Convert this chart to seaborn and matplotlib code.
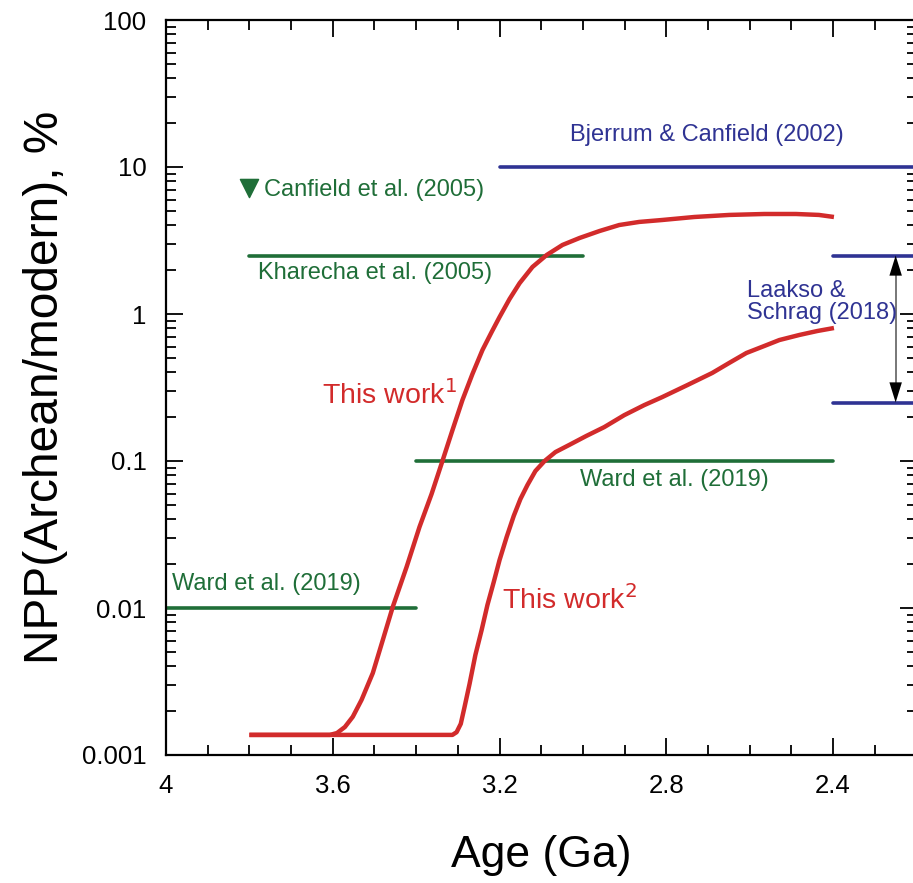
import numpy as np
import pandas as pd
import matplotlib
matplotlib.use("Agg")
import matplotlib.pyplot as plt
from matplotlib.ticker import FixedLocator, NullFormatter, LogLocator
import seaborn as sns

# ---------------- data ----------------
# "This work 1" model curve (Age in Ga, NPP %)
w1_age = [3.800, 3.607, 3.590, 3.571, 3.552, 3.531, 3.504, 3.480, 3.456, 3.423,
          3.392, 3.363, 3.337, 3.313, 3.289, 3.265, 3.241, 3.219, 3.200, 3.176,
          3.152, 3.121, 3.087, 3.049, 3.008, 2.960, 2.913, 2.865, 2.810, 2.733,
          2.649, 2.565, 2.489, 2.434, 2.398]
w1_npp = [0.00137, 0.00137, 0.00141, 0.00155, 0.00182, 0.00237, 0.00361, 0.00606, 0.0102, 0.0190,
          0.0356, 0.0597, 0.100, 0.162, 0.260, 0.391, 0.569, 0.754, 0.954, 1.265,
          1.62, 2.09, 2.52, 2.95, 3.29, 3.67, 4.03, 4.23, 4.36, 4.57,
          4.72, 4.79, 4.79, 4.72, 4.57]

# "This work 2" model curve
w2_age = [3.800, 3.313, 3.303, 3.293, 3.284, 3.272, 3.258, 3.243, 3.229, 3.214,
          3.200, 3.183, 3.166, 3.150, 3.133, 3.114, 3.092, 3.066, 3.032, 2.992,
          2.949, 2.901, 2.853, 2.810, 2.750, 2.690, 2.649, 2.608, 2.565, 2.529,
          2.481, 2.438, 2.398]
w2_npp = [0.00137, 0.00137, 0.00143, 0.00163, 0.00212, 0.00304, 0.00479, 0.00708, 0.0105, 0.0150,
          0.0212, 0.0304, 0.0423, 0.0551, 0.0687, 0.0855, 0.100, 0.115, 0.129, 0.148,
          0.170, 0.205, 0.240, 0.272, 0.328, 0.397, 0.465, 0.543, 0.606, 0.665,
          0.720, 0.766, 0.803]

# literature estimates (horizontal bars)
ref_names = ["Bjerrum & Canfield (2002)", "Kharecha et al. (2005)", "Ward et al. (2019)",
             "Ward et al. (2019)", "Laakso & Schrag (2018) upper", "Laakso & Schrag (2018) lower"]
ref_start = [3.2, 3.8, 3.4, 4.0, 2.4, 2.4]
ref_end = [2.2, 3.0, 2.4, 3.4, 2.2, 2.2]
ref_value = [10, 2.5, 0.1, 0.01, 2.5, 0.25]
ref_group = ["blue", "green", "green", "green", "blue", "blue"]

# Canfield et al. (2005) point estimate
canfield_age = [3.80]
canfield_npp = [7.2]

x_ticks = [4.0, 3.6, 3.2, 2.8, 2.4]
x_ticklabels = ["4", "3.6", "3.2", "2.8", "2.4"]
y_ticks = [0.001, 0.01, 0.1, 1, 10, 100]
y_ticklabels = ["0.001", "0.01", "0.1", "1", "10", "100"]

RED = "#d22b2b"
GREEN = "#1f6e38"
BLUE = "#2f3393"
colors = {"blue": BLUE, "green": GREEN}

# ---------------- style ----------------
sns.set_style("ticks")
plt.rcParams["font.family"] = ["Liberation Sans", "DejaVu Sans"]
plt.rcParams["axes.linewidth"] = 1.5
plt.rcParams["axes.labelcolor"] = "black"
plt.rcParams["text.color"] = "black"

fig = plt.figure(figsize=(9.13, 8.83), dpi=100)
ax = fig.add_axes([166 / 913, 128 / 883, (916.5 - 166) / 913, 735 / 883])

# curves
df1 = pd.DataFrame({"age": w1_age, "npp": w1_npp})
df2 = pd.DataFrame({"age": w2_age, "npp": w2_npp})
for df in (df2, df1):
    sns.lineplot(data=df, x="age", y="npp", ax=ax, color=RED, lw=3.2, sort=False,
                 estimator=None, zorder=3)
for line in ax.get_lines():
    line.set_solid_joinstyle("round")
    line.set_solid_capstyle("butt")

# reference bars
for s, e, v, g in zip(ref_start, ref_end, ref_value, ref_group):
    seg = pd.DataFrame({"age": [s, e], "npp": [v, v]})
    sns.lineplot(data=seg, x="age", y="npp", ax=ax, color=colors[g], lw=2.6,
                 estimator=None, sort=False, zorder=2)

# Canfield marker
sns.scatterplot(x=canfield_age, y=canfield_npp, ax=ax, marker="v", s=170,
                color=GREEN, edgecolor=GREEN, zorder=4)

# Laakso & Schrag arrow
arr_x = 2.25
ax.plot([arr_x, arr_x], [ref_value[5] * 1.12, ref_value[4] / 1.12], color="#777777", lw=1.4, zorder=2)
for tip, tail in [(ref_value[4], 1.3), (ref_value[5], 0.48)]:
    ax.annotate("", xy=(arr_x, tip), xytext=(arr_x, tail),
                arrowprops=dict(arrowstyle="-|>,head_length=1.45,head_width=0.45",
                                color="black", lw=0, shrinkA=0, shrinkB=0), zorder=3)

# axes
ax.set_yscale("log")
ax.set_xlim(4.0, 2.2)
ax.set_ylim(0.001, 100)
ax.set_xticks(x_ticks)
ax.set_xticklabels(x_ticklabels)
ax.xaxis.set_minor_locator(FixedLocator(np.round(np.arange(2.2, 4.0001, 0.1), 2)))
ax.set_yticks(y_ticks)
ax.set_yticklabels(y_ticklabels)
ax.yaxis.set_minor_locator(LogLocator(base=10, subs=np.arange(2, 10)))
ax.yaxis.set_minor_formatter(NullFormatter())
ax.tick_params(which="both", direction="in", top=True, right=True, width=1.3, colors="black")
ax.tick_params(which="major", length=12, labelsize=18.5, pad=14)
ax.tick_params(which="minor", length=7)
for sp in ax.spines.values():
    sp.set_visible(True)
    sp.set_linewidth(1.6)
    sp.set_color("black")

ax.set_xlabel("Age (Ga)", fontsize=32, labelpad=26, color="black")
ax.set_ylabel("NPP(Archean/modern), %", fontsize=34.5, labelpad=10, color="black")

# annotations
fs = 17
ax.text(3.03, 16.5, "Bjerrum & Canfield (2002)", color=BLUE, fontsize=fs, ha="left", va="center")
ax.text(3.765, 7.0, "Canfield et al. (2005)", color=GREEN, fontsize=fs, ha="left", va="center")
ax.text(3.78, 1.9, "Kharecha et al. (2005)", color=GREEN, fontsize=fs, ha="left", va="center")
ax.text(3.008, 0.074, "Ward et al. (2019)", color=GREEN, fontsize=fs, ha="left", va="center")
ax.text(3.985, 0.0145, "Ward et al. (2019)", color=GREEN, fontsize=fs, ha="left", va="center")
ax.text(2.606, 1.2, "Laakso &\nSchrag (2018)", color=BLUE, fontsize=fs, ha="left", va="center",
        linespacing=1.0)
ax.text(3.626, 0.28, r"This work$^{1}$", color=RED, fontsize=20.5, ha="left", va="center")
ax.text(3.195, 0.0113, r"This work$^{2}$", color=RED, fontsize=20.5, ha="left", va="center")

fig.savefig("out.png", dpi=100)
